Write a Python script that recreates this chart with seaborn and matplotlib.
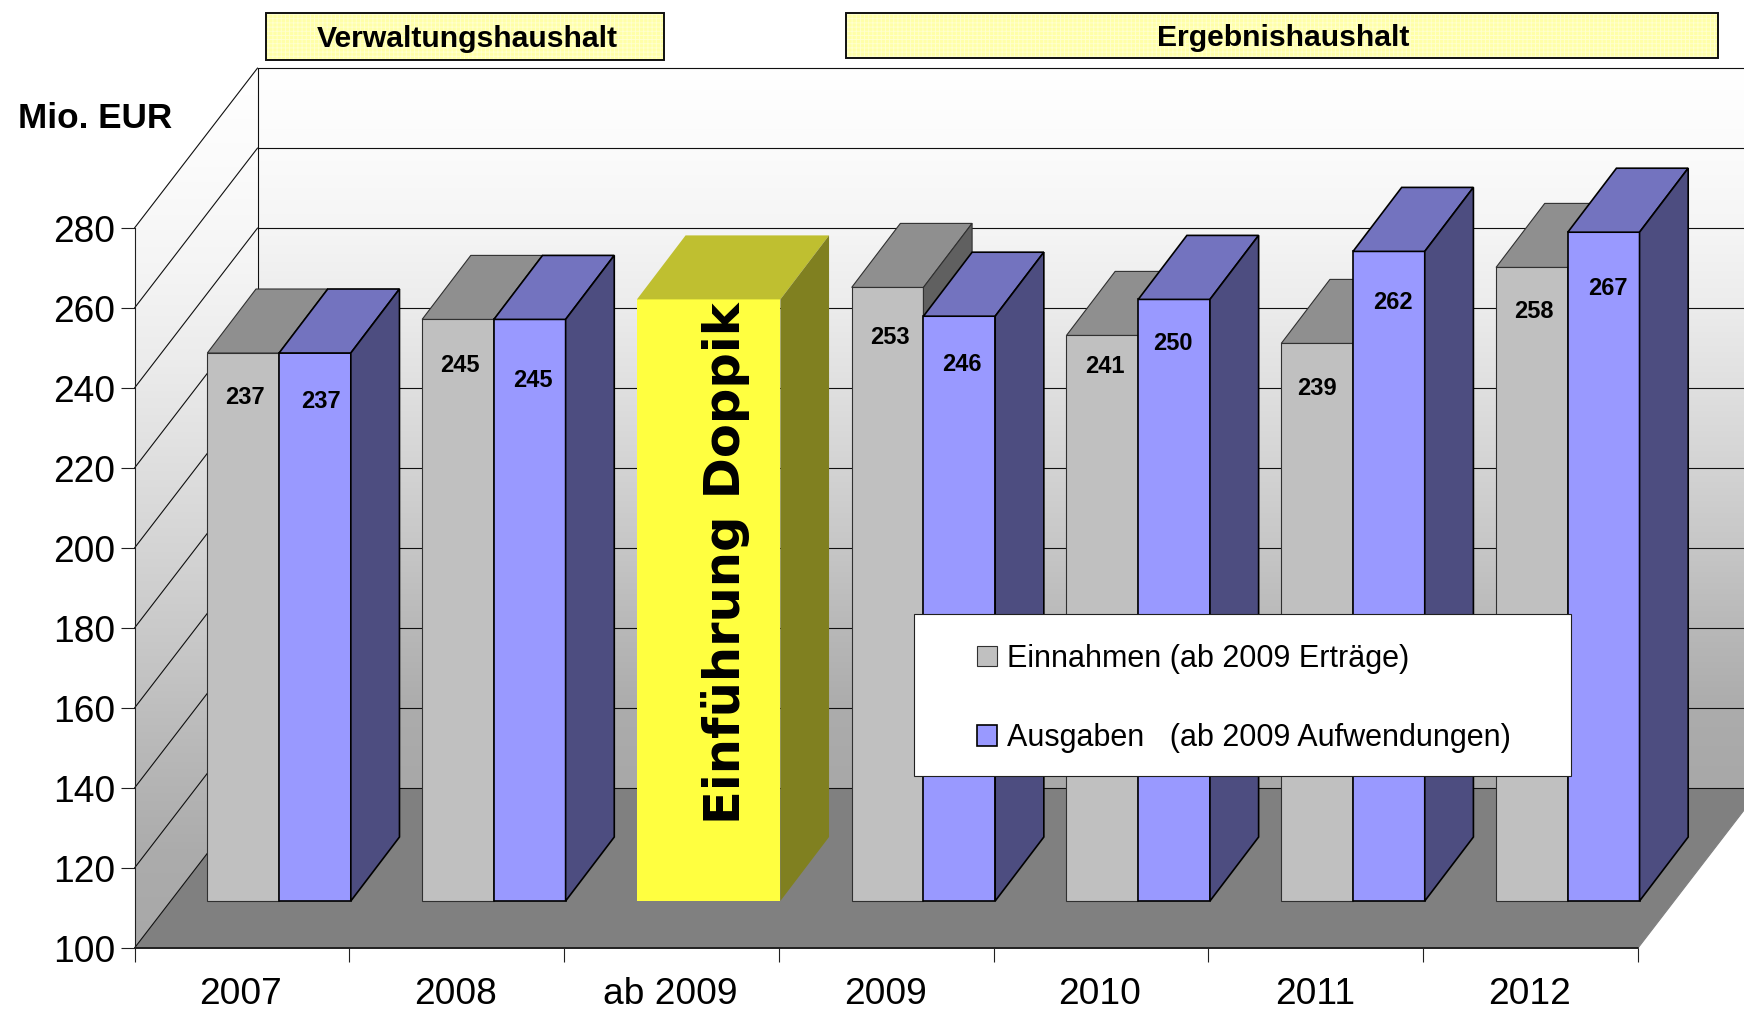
import numpy as np
import pandas as pd
import matplotlib
matplotlib.use("Agg")
import matplotlib.pyplot as plt
from matplotlib.colors import LinearSegmentedColormap
from matplotlib.patches import Patch, Polygon, Rectangle
import seaborn as sns

# ---- data ----
categories = ["2007", "2008", "ab 2009", "2009", "2010", "2011", "2012"]
einnahmen = [237.0, 245.4, np.nan, 253.4, 241.4, 239.4, 258.4]
ausgaben = [237.0, 245.4, np.nan, 246.2, 250.4, 262.4, 267.2]
doppik = [np.nan, np.nan, 250.4, np.nan, np.nan, np.nan, np.nan]
series_names = ["Einnahmen (ab 2009 Erträge)", "Ausgaben   (ab 2009 Aufwendungen)"]
y_ticks = list(range(100, 281, 20))

# ---- style ----
W, H = 1744, 1010
sns.set_theme(style="white")
plt.rcParams["font.family"] = ["Liberation Sans", "DejaVu Sans"]
plt.rcParams["text.color"] = "black"
plt.rcParams["xtick.labelcolor"] = "black"
plt.rcParams["ytick.labelcolor"] = "black"
plt.rcParams["hatch.linewidth"] = 0.6

fig = plt.figure(figsize=(W / 100, H / 100), dpi=100, facecolor="white")


def axes_rect(left, bottom_y, width, height):
    return [left / W, 1 - bottom_y / H, width / W, height / H]


def fx(px):
    return px / W


def fy(py):
    return 1 - py / H


PLOT_L, PLOT_B, PLOT_W, PLOT_H = 134.5, 948, 1503.5, 720
WALL_DX, WALL_DY = 0.573, 40.0       # depth of the room, in data units
BAR_DX, BAR_DY = 0.2265, 16.0        # depth of a bar, in data units
XMIN, XMAX = -0.5, 6.5
YMIN, YMAX = 100, 280

# ---- room: front axes with walls, floor and grid ----
ax = fig.add_axes(axes_rect(PLOT_L, PLOT_B, PLOT_W, PLOT_H), facecolor="none")
back_poly = Polygon([(XMIN + WALL_DX, YMIN + WALL_DY), (XMAX + WALL_DX, YMIN + WALL_DY),
                     (XMAX + WALL_DX, YMAX + WALL_DY), (XMIN + WALL_DX, YMAX + WALL_DY)],
                    transform=ax.transData, fc="none", ec="none")
left_poly = Polygon([(XMIN, YMIN), (XMIN + WALL_DX, YMIN + WALL_DY),
                     (XMIN + WALL_DX, YMAX + WALL_DY), (XMIN, YMAX)],
                    transform=ax.transData, fc="none", ec="none")
wall_stops = [(0.0, "#A8A8A8"), (0.11, "#ACACAC"), (0.22, "#B8B8B8"), (0.33, "#C6C6C6"),
              (0.45, "#D4D4D4"), (0.56, "#E0E0E0"), (0.67, "#ECECEC"), (0.78, "#F5F5F5"),
              (0.89, "#FBFBFB"), (1.0, "#FFFFFF")]
cmap_wall = LinearSegmentedColormap.from_list("wall", wall_stops)
grad = np.linspace(0, 1, 512)[::-1].reshape(-1, 1)
for poly, ylow in ((back_poly, YMIN + WALL_DY), (left_poly, YMIN)):
    ax.add_patch(poly)
    im = ax.imshow(grad, cmap=cmap_wall, vmin=0, vmax=1, aspect="auto", zorder=0,
                   extent=(XMIN, XMAX + WALL_DX, ylow, YMAX + WALL_DY))
    im.set_clip_box(fig.bbox)
    im.set_clip_path(poly)
ax.add_patch(Polygon([(XMIN, YMIN), (XMAX, YMIN), (XMAX + WALL_DX, YMIN + WALL_DY),
                      (XMIN + WALL_DX, YMIN + WALL_DY)], fc="#808080", ec="none",
                     clip_on=False, zorder=1))
line_kw = dict(color="#101010", lw=0.8, clip_on=False, zorder=2)
for t in y_ticks:
    ax.plot([XMIN, XMIN + WALL_DX], [t, t + WALL_DY], **line_kw)
    ax.plot([XMIN + WALL_DX, XMAX + WALL_DX], [t + WALL_DY, t + WALL_DY], **line_kw)
ax.plot([XMIN + WALL_DX] * 2, [YMIN + WALL_DY, YMAX + WALL_DY], **line_kw)
ax.plot([XMIN, XMAX], [YMIN, YMIN], color="#202020", lw=1.4, clip_on=False, zorder=3)
ax.plot([XMAX, XMAX + WALL_DX], [YMIN, YMIN + WALL_DY], color="#808080", lw=0.8, clip_on=False)

ax.set_xlim(XMIN, XMAX)
ax.set_ylim(YMIN, YMAX)
ax.set_yticks(y_ticks)
ax.set_xticks(np.arange(XMIN, XMAX + 1))
ax.set_xticklabels([])
ax.set_xticks(np.arange(len(categories)) - 0.005, labels=categories, minor=True)
ax.tick_params(axis="x", which="major", length=10, width=0.8, color="#202020", bottom=True)
ax.tick_params(axis="x", which="minor", length=0, pad=21, labelsize=26.7)
ax.tick_params(axis="y", length=10, width=0.8, color="#202020", pad=4, labelsize=26.7, left=True)
ax.grid(False)
for name, spine in ax.spines.items():
    spine.set_visible(name == "left")
    spine.set_color("#202020")
    spine.set_linewidth(0.8)

# ---- bars: second axes sitting in the plane of the bar fronts ----
axb = fig.add_axes(axes_rect(PLOT_L + 37.2, PLOT_B - 47, PLOT_W, PLOT_H), facecolor="none")
df = pd.DataFrame({
    "Jahr": categories * 2,
    "Wert": einnahmen + ausgaben,
    "Reihe": [series_names[0]] * 7 + [series_names[1]] * 7,
})
FRONT = {series_names[0]: "#C0C0C0", series_names[1]: "#9999FF"}
sns.barplot(data=df, x="Jahr", y="Wert", hue="Reihe", order=categories, hue_order=series_names,
            palette=FRONT, width=0.668, gap=0, dodge=True, saturation=1, legend=False, ax=axb)
sns.barplot(x=categories, y=doppik, order=categories, color="#FFFF40", width=0.668,
            saturation=1, ax=axb)
axb.set_xlim(XMIN, XMAX)
axb.set_ylim(YMIN, YMAX)
axb.axis("off")

FACE = {
    "#C0C0C0": ("#8F8F8F", "#606060", "#303030", 0.8),
    "#9999FF": ("#7373BF", "#4D4D80", "#000000", 1.2),
    "#FFFF40": ("#BFBF30", "#808020", "none", 0),
}
bars = [p for p in axb.patches if np.isfinite(p.get_height()) and p.get_height() > 0]
bars.sort(key=lambda p: p.get_x())
for i, p in enumerate(bars):
    x0, w, top = p.get_x(), p.get_width(), p.get_height()
    hexcol = matplotlib.colors.to_hex(p.get_facecolor()).upper()
    top_c, side_c, edge, lw = FACE[hexcol]
    p.set_y(YMIN)
    p.set_height(top - YMIN)
    p.set_edgecolor(edge)
    p.set_linewidth(lw)
    p.set_clip_on(False)
    p.set_zorder(10 + 3 * i)
    axb.add_patch(Polygon([(x0, top), (x0 + w, top), (x0 + w + BAR_DX, top + BAR_DY), (x0 + BAR_DX, top + BAR_DY)],
                          fc=top_c, ec=edge, lw=lw, clip_on=False, zorder=10 + 3 * i + 1))
    axb.add_patch(Polygon([(x0 + w, YMIN), (x0 + w + BAR_DX, YMIN + BAR_DY), (x0 + w + BAR_DX, top + BAR_DY), (x0 + w, top)],
                          fc=side_c, ec=edge, lw=lw, clip_on=False, zorder=10 + 3 * i + 1))

# ---- value labels ----
grey_shift = [(2, -44), (2, -46), None, (2, -50), (3, -31), (0, -45), (2, -44)]
blue_shift = [(6, -49), (3, -61), None, (3, -48), (-1, -44), (4, -51), (4, -56)]
bar_w = 0.668 / 2
for i in range(len(categories)):
    for vals, shifts, off in ((einnahmen, grey_shift, -bar_w / 2), (ausgaben, blue_shift, bar_w / 2)):
        if np.isfinite(vals[i]):
            axb.annotate(f"{vals[i]:.0f}", xy=(i + off, vals[i]), xytext=shifts[i],
                         textcoords="offset pixels", ha="center", va="center",
                         fontsize=17, fontweight="bold", color="black",
                         annotation_clip=False, zorder=100)

fig.text(fx(725), fy(563), "Einführung Doppik", rotation=90, ha="center", va="center",
         fontsize=35.7, fontweight="bold", family="DejaVu Sans", color="black", zorder=20)

# ---- legend ----
axb.add_patch(Rectangle((fx(914), fy(776)), fx(1571) - fx(914), fy(614) - fy(776),
                        transform=fig.transFigure, fc="white", ec="#202020", lw=0.8,
                        clip_on=False, zorder=150))
handles = [Patch(facecolor="#C0C0C0", edgecolor="#303030", linewidth=0.8),
           Patch(facecolor="#9999FF", edgecolor="#000000", linewidth=1.2)]
leg = axb.legend(handles, series_names, loc="upper left", frameon=False, borderpad=0, borderaxespad=0,
                 bbox_to_anchor=(fx(977), fy(644)), bbox_transform=fig.transFigure,
                 fontsize=22, handlelength=0.65, handleheight=0.65, handletextpad=0.33,
                 labelspacing=1.61)
leg.set_zorder(200)

# ---- headers and unit ----
for (left, right, top, bottom), label, cx in (
        ((266, 664, 13, 60), "Verwaltungshaushalt", 467),
        ((846, 1718, 13, 58), "Ergebnishaushalt", 1283)):
    fig.add_artist(Rectangle((fx(left), fy(bottom)), fx(right) - fx(left), fy(top) - fy(bottom),
                             transform=fig.transFigure, fc="#FFFFA8", ec="#FFFFD0", lw=0,
                             hatch="++++"))
    fig.add_artist(Rectangle((fx(left), fy(bottom)), fx(right) - fx(left), fy(top) - fy(bottom),
                             transform=fig.transFigure, fc="none", ec="#101010", lw=1.4))
    fig.text(fx(cx), fy((top + bottom) / 2 + 2.5), label, ha="center", va="center",
             fontsize=21.7, fontweight="bold", color="black")
fig.text(fx(18), fy(119), "Mio. EUR", ha="left", va="center", fontsize=25.3, fontweight="bold", color="black")

fig.savefig("out.png", dpi=100, facecolor="white")
